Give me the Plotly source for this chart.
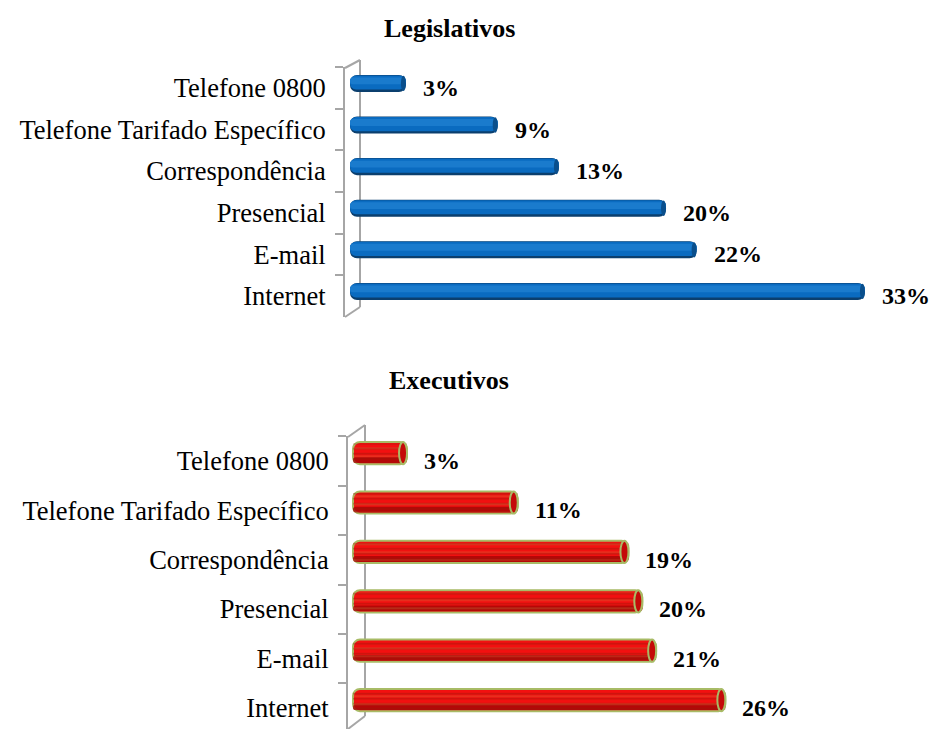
import plotly.graph_objects as go

# Channels, listed bottom-to-top as they appear on the category axis
canais = ["Internet", "E-mail", "Presencial", "Correspondência",
          "Telefone Tarifado Específico", "Telefone 0800"]
legislativos = [33, 22, 20, 13, 9, 3]
executivos = [26, 21, 20, 19, 11, 3]

W, H = 938, 729
SERIF = "Liberation Serif, Times New Roman, serif"
WALL = "#a6a6a6"


def px(x):
    return x / W


def py(y):
    return 1 - y / H


# Horizontal geometry of each panel: front wall x, zero (back wall) x, px per percent,
# and x where the cylinders visibly start (in front of the back wall)
TOP = dict(front=345, zero=360, scale=15.3, start=350)
BOT = dict(front=348, zero=365.5, scale=13.84, start=353)


def x_range(g):
    return [-(g["zero"] - g["front"]) / g["scale"], (W - g["zero"]) / g["scale"]]


def base_of(g):
    return -(g["zero"] - g["start"]) / g["scale"]


fig = go.Figure()

# ---------- Legislativos: blue cylinders built from stacked shading layers ----------
bw = 0.41          # bar thickness in category units
lift = 0.11        # bars sit slightly above the category centre (3-D floor effect)
b_top = base_of(TOP)
blue_layers = [
    # (start fraction from bottom, end fraction, colour, corner radius px)
    (0.00, 1.00, "#0b3f6e", 7),
    (0.14, 0.97, "#0a6bc0", 6),
    (0.45, 0.85, "#1a7bcd", 4),
]
for f0, f1, col, cr in blue_layers:
    fig.add_trace(go.Bar(
        y=canais, x=[v - b_top for v in legislativos], base=b_top, orientation="h",
        width=bw * (f1 - f0), offset=-bw / 2 + lift + bw * f0,
        marker=dict(color=col, line=dict(width=0), cornerradius=cr),
        xaxis="x", yaxis="y", hoverinfo="skip",
    ))

# ---------- Executivos: red textured cylinders with olive rim ----------
bw2 = 0.45
lift2 = 0.16
b_bot = base_of(BOT)
xs2 = [v - b_bot for v in executivos]
fig.add_trace(go.Bar(
    y=canais, x=xs2, base=b_bot, orientation="h",
    width=bw2, offset=-bw2 / 2 + lift2,
    marker=dict(color="#f31010", line=dict(color="#a8bb66", width=2), cornerradius=7),
    xaxis="x2", yaxis="y2", hoverinfo="skip",
))
fig.add_trace(go.Bar(
    y=canais, x=xs2, base=b_bot, orientation="h",
    width=bw2 * 0.26, offset=-bw2 / 2 + lift2 + bw2 * 0.05,
    marker=dict(color="rgba(165,5,5,0.8)", line=dict(width=0), cornerradius=3),
    xaxis="x2", yaxis="y2", hoverinfo="skip",
))
fig.add_trace(go.Bar(
    y=canais, x=xs2, base=b_bot, orientation="h",
    width=bw2 * 0.86, offset=-bw2 / 2 + lift2 + bw2 * 0.07,
    marker=dict(color="rgba(0,0,0,0)", line=dict(width=0),
                pattern=dict(shape="-", fgcolor="rgba(150,25,10,0.5)",
                             bgcolor="rgba(0,0,0,0)", fillmode="replace",
                             size=5, solidity=0.3)),
    xaxis="x2", yaxis="y2", hoverinfo="skip",
))
fig.add_trace(go.Bar(
    y=canais, x=xs2, base=b_bot, orientation="h",
    width=bw2 * 0.8, offset=-bw2 / 2 + lift2 + bw2 * 0.1,
    marker=dict(color="rgba(0,0,0,0)", line=dict(width=0),
                pattern=dict(shape="-", fgcolor="rgba(205,120,60,0.5)",
                             bgcolor="rgba(0,0,0,0)", fillmode="replace",
                             size=8, solidity=0.14)),
    xaxis="x2", yaxis="y2", hoverinfo="skip",
))

shapes = []
# visible end face of each cylinder
cap1 = 2.5 / TOP["scale"]
for i, v in enumerate(legislativos):
    c = i + lift
    shapes.append(dict(type="circle", xref="x", yref="y",
                       x0=v - 2 * cap1, x1=v, y0=c - bw / 2 + 0.02, y1=c + bw / 2 - 0.02,
                       fillcolor="#0a4f8c", line=dict(width=0)))
cap2 = 4.0 / BOT["scale"]
for i, v in enumerate(executivos):
    c = i + lift2
    shapes.append(dict(type="circle", xref="x2", yref="y2",
                       x0=v - 2 * cap2, x1=v, y0=c - bw2 / 2, y1=c + bw2 / 2,
                       fillcolor="#c40a08", line=dict(color="#a8bb66", width=2)))

# back edge of the 3-D wall behind each chart
for (fx, fy0, fy1, bx, by0, by1) in [(345, 68, 317, 360, 60, 307),
                                     (348, 437, 729, 365, 425, 716)]:
    line = dict(color=WALL, width=2)
    shapes.append(dict(type="line", xref="paper", yref="paper", layer="below",
                       x0=px(bx), x1=px(bx), y0=py(by0), y1=py(by1), line=line))
    shapes.append(dict(type="line", xref="paper", yref="paper", layer="below",
                       x0=px(fx), x1=px(bx), y0=py(fy0), y1=py(by0), line=line))
    shapes.append(dict(type="line", xref="paper", yref="paper", layer="below",
                       x0=px(fx), x1=px(bx), y0=py(fy1), y1=py(by1), line=line))

annotations = []
for xa, ya, vals, shift in [("x", "y", legislativos, 15), ("x2", "y2", executivos, 15)]:
    for cat, v in zip(canais, vals):
        annotations.append(dict(
            x=v, y=cat, xref=xa, yref=ya, text=f"<b>{v}%</b>",
            xanchor="left", yanchor="middle", xshift=shift, showarrow=False,
            font=dict(family=SERIF, size=24, color="black")))

for title, yc in [("Legislativos", 28), ("Executivos", 381)]:
    annotations.append(dict(
        x=px(449), y=py(yc), xref="paper", yref="paper", text=f"<b>{title}</b>",
        xanchor="center", yanchor="middle", showarrow=False,
        font=dict(family=SERIF, size=26, color="black")))

yax_common = dict(
    type="category", categoryorder="array", categoryarray=canais,
    showline=True, linecolor=WALL, linewidth=2,
    ticks="outside", tickson="boundaries", ticklen=8, tickwidth=2, tickcolor=WALL,
    showgrid=False, zeroline=False, fixedrange=True,
    tickfont=dict(family=SERIF, size=26.5, color="black"),
)

fig.update_layout(
    width=W, height=H, margin=dict(l=0, r=0, t=0, b=0),
    paper_bgcolor="white", plot_bgcolor="rgba(0,0,0,0)",
    barmode="overlay", showlegend=False,
    xaxis=dict(domain=[px(TOP["front"]), 1], range=x_range(TOP),
               visible=False, fixedrange=True),
    yaxis=dict(domain=[py(316.8), py(67.2)], range=[-0.5, 5.5], anchor="x",
               ticklabelstandoff=12, **yax_common),
    xaxis2=dict(domain=[px(BOT["front"]), 1], range=x_range(BOT),
                visible=False, fixedrange=True, anchor="y2"),
    yaxis2=dict(domain=[0, py(436.3)], range=[-0.5 + 3.7 / 49.4, 5.5], anchor="x2",
                ticklabelstandoff=12, **yax_common),
    shapes=shapes, annotations=annotations,
)

fig.write_html("out.html")
